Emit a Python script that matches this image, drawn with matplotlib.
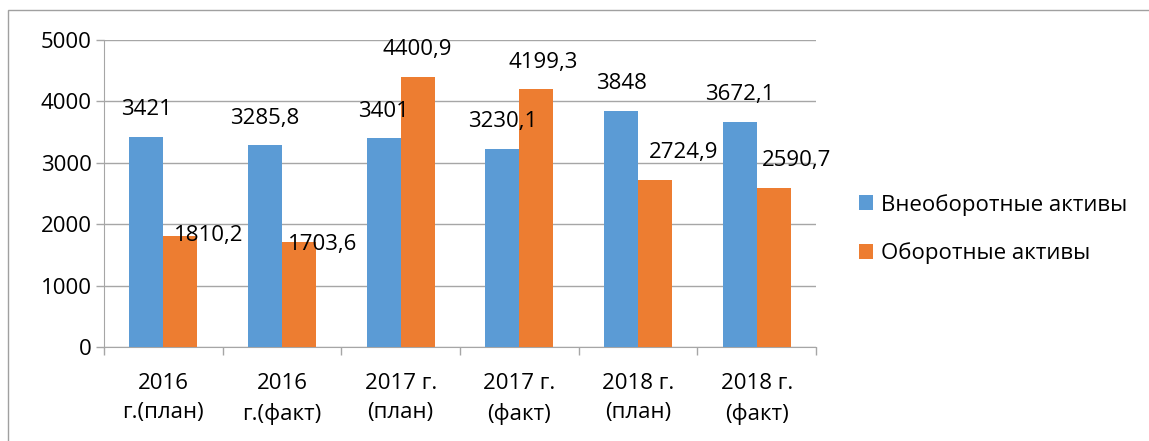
"""
Внеоборотные и оборотные активы, план/факт 2016-2018.
"""

import matplotlib.pyplot as plt
import numpy as np
from matplotlib.patches import Rectangle

categories = [
    "2016\nг.(план)",
    "2016\nг.(факт)",
    "2017 г.\n(план)",
    "2017 г.\n(факт)",
    "2018 г.\n(план)",
    "2018 г.\n(факт)",
]
non_current = [3421, 3285.8, 3401, 3230.1, 3848, 3672.1]
current = [1810.2, 1703.6, 4400.9, 4199.3, 2724.9, 2590.7]
series_names = ["Внеоборотные активы", "Оборотные активы"]

# label offsets in pixels (labels were dragged by hand in the source)
blue_offsets = [(0, 27)] * 6
orange_offsets = [(28, 0), (24, -2), (0, 27), (7, 27), (29, 27), (23, 27)]

BLUE = "#5B9BD5"
ORANGE = "#ED7D31"
GRID = "#A6A6A6"
FS = 16

plt.rcParams["font.family"] = ["Open Sans", "DejaVu Sans"]


def fmt(v):
    s = f"{v:g}"
    return s.replace(".", ",")


def main() -> None:
    fig = plt.figure(figsize=(11.49, 4.41), dpi=100)
    fig.patches.append(
        Rectangle((8 / 1149, -0.1), 1.2, 1 - 10 / 441 + 0.1,
                  transform=fig.transFigure, fill=False,
                  edgecolor="#A0A0A0", linewidth=1.0)
    )
    ax = fig.add_axes([104 / 1149, 1 - 347 / 441, 712 / 1149, 307 / 441])

    x = np.arange(len(categories))
    w = 0.286
    b1 = ax.bar(x - w / 2, non_current, w, color=BLUE, label=series_names[0], zorder=3)
    b2 = ax.bar(x + w / 2, current, w, color=ORANGE, label=series_names[1], zorder=3)

    to_pt = 72 / 100
    for bars, vals, offs in [(b1, non_current, blue_offsets), (b2, current, orange_offsets)]:
        for rect, v, (dx, dy) in zip(bars, vals, offs):
            ax.annotate(fmt(v), (rect.get_x() + rect.get_width() / 2, v),
                        xytext=(dx * to_pt, dy * to_pt), textcoords="offset points",
                        ha="center", va="center", fontsize=FS, color="#000000", zorder=4)

    ax.set_xlim(-0.5, len(categories) - 0.5)
    ax.set_ylim(0, 5000)
    ax.set_yticks(range(0, 5001, 1000))
    ax.yaxis.grid(True, color=GRID, linewidth=1.0, zorder=0)

    ax.set_xticks(x)
    ax.set_xticklabels(categories, fontsize=FS, linespacing=1.5)
    ax.set_xticks(np.arange(-0.5, len(categories), 1.0), minor=True)
    ax.tick_params(axis="x", which="major", length=0, pad=19)
    ax.tick_params(axis="x", which="minor", length=6, color=GRID, width=1.0)
    ax.tick_params(axis="y", length=6, color=GRID, width=1.0, labelsize=FS, pad=3)

    for side in ["top", "right"]:
        ax.spines[side].set_visible(False)
    ax.spines["left"].set_color(GRID)
    ax.spines["bottom"].set_color(GRID)

    fig.legend(handles=[b1, b2], labels=series_names,
               loc="center left", bbox_to_anchor=(839 / 1149, 1 - 229 / 441),
               frameon=False, fontsize=FS, handlelength=0.65, handleheight=0.65,
               handletextpad=0.35, labelspacing=1.2)

    fig.savefig("out.png", dpi=100)
    plt.close(fig)


if __name__ == "__main__":
    main()
